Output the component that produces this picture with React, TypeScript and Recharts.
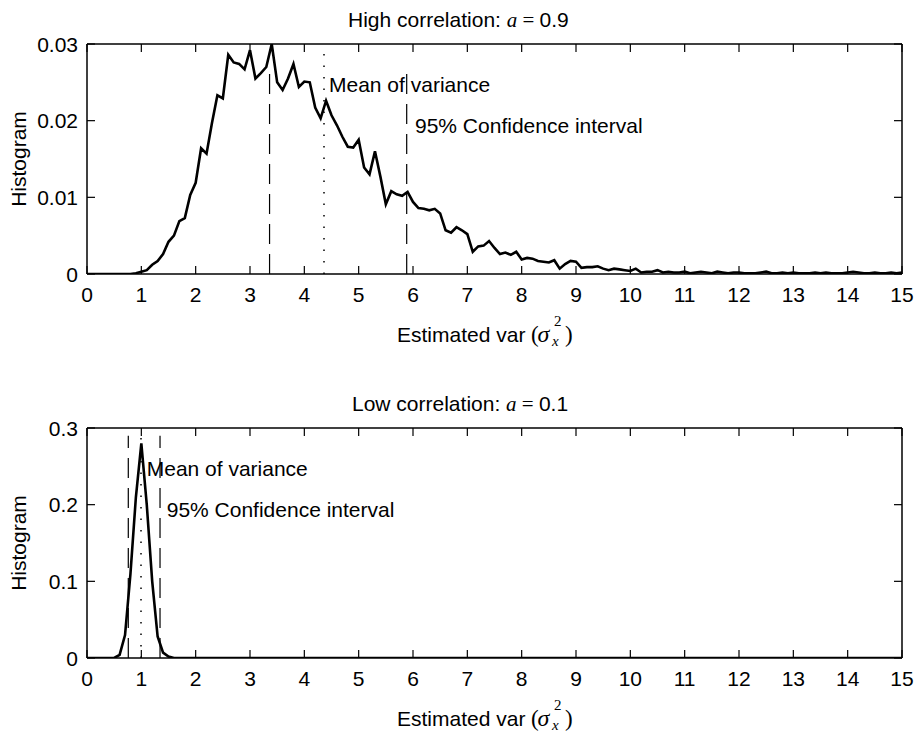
import React from 'react';
import { LineChart, Line, XAxis, YAxis, ReferenceLine, ReferenceDot } from 'recharts';

const SANS = '"Liberation Sans", Arial, Helvetica, sans-serif';
const SERIF = '"Liberation Serif", "Times New Roman", serif';
const FS = 21;

// histogram bins are 0.1 wide, starting at 0
const binWidth = 0.1;

const xTicks = [0, 1, 2, 3, 4, 5, 6, 7, 8, 9, 10, 11, 12, 13, 14, 15];
const highYTicks = [0, 0.01, 0.02, 0.03];
const lowYTicks = [0, 0.1, 0.2, 0.3];

// a = 0.9, one value per bin from 0.0 to 15.0
const highHist = [
  0, 0, 0, 0, 0, 0, 0, 0, 0, 0.0001,
  0.0003, 0.0005, 0.0012, 0.0017, 0.0026, 0.0042, 0.005, 0.0069, 0.0073, 0.0103,
  0.0119, 0.0164, 0.0157, 0.0197, 0.0233, 0.0229, 0.0286, 0.0276, 0.0274, 0.0267,
  0.0292, 0.0255, 0.0262, 0.027, 0.03, 0.025, 0.024, 0.0255, 0.0274, 0.0244,
  0.0251, 0.025, 0.0217, 0.0203, 0.0226, 0.0207, 0.0194, 0.0179, 0.0166, 0.0165,
  0.0175, 0.0139, 0.013, 0.016, 0.0127, 0.0091, 0.0108, 0.0104, 0.0102, 0.0107,
  0.0094, 0.0086, 0.0085, 0.0083, 0.0085, 0.0079, 0.0057, 0.0054, 0.0061, 0.0057,
  0.0052, 0.0029, 0.0036, 0.0037, 0.0043, 0.0034, 0.0026, 0.0028, 0.0025, 0.0029,
  0.0019, 0.0021, 0.002, 0.0017, 0.0016, 0.0015, 0.0018, 0.0007, 0.0013, 0.0017,
  0.0016, 0.0008, 0.0009, 0.0009, 0.001, 0.0007, 0.0005, 0.0007, 0.0006, 0.0005,
  0.0004, 0.0007, 0.0002, 0.0003, 0.0003, 0.0005, 0.0002, 0.0003, 0.0002, 0.0002,
  0.0003, 0.0001, 0.0002, 0.0003, 0.0002, 0.0001, 0.0003, 0.0002, 0.0001, 0.0002,
  0.0002, 0.0001, 0.0001, 0.0001, 0.0002, 0.0003, 0.0001, 0.0001, 0.0002, 0.0001,
  0.0002, 0.0001, 0.0001, 0.0001, 0.0002, 0.0001, 0.0002, 0.0001, 0.0001, 0.0001,
  0.0002, 0.0003, 0.0002, 0.0001, 0.0001, 0.0002, 0.0001, 0.0001, 0.0002, 0.0001,
  0.0002,
];

// a = 0.1, zero everywhere outside 0.5..1.6
const lowX = [0, 0.5, 0.6, 0.7, 0.8, 0.9, 1.0, 1.1, 1.2, 1.3, 1.4, 1.5, 1.6, 15];
const lowHist = [0, 0, 0.004, 0.03, 0.11, 0.21, 0.28, 0.2, 0.1, 0.028, 0.007, 0.002, 0, 0];

// mean (dotted) and 95% interval (dashed) of the estimated variance
const highCI = [3.36, 5.884];
const highMean = 4.362;
const lowCI = [0.76, 1.344];
const lowMean = 0.994;

const highData = highHist.map((y, i) => ({ x: Math.round(i * binWidth * 10) / 10, y }));
const lowData = lowX.map((x, i) => ({ x, y: lowHist[i] }));

const W = 915;
const H = 366;
// plot box: x 87..902, y 44..274 (axes take 60 / 30 / 1 / 1 px)
const margin = { top: 43, right: 12, bottom: 62, left: 27 };

const tickLen = 8;

const XTickBottom = (p: any) => (
  <g>
    <line x1={p.x} x2={p.x} y1={p.y} y2={p.y - tickLen} stroke="#000" strokeWidth={1.2} />
    <text x={p.x} y={p.y + 28} textAnchor="middle" fontFamily={SANS} fontSize={FS} fill="#000">
      {p.payload.value}
    </text>
  </g>
);
const XTickTop = (p: any) => (
  <line x1={p.x} x2={p.x} y1={p.y} y2={p.y + tickLen} stroke="#000" strokeWidth={1.2} />
);
const YTickLeft = (p: any) => (
  <g>
    <line x1={p.x} x2={p.x + tickLen} y1={p.y} y2={p.y} stroke="#000" strokeWidth={1.2} />
    <text x={p.x - 9} y={p.y + 7.5} textAnchor="end" fontFamily={SANS} fontSize={FS} fill="#000">
      {p.payload.value}
    </text>
  </g>
);
const YTickRight = (p: any) => (
  <line x1={p.x} x2={p.x - tickLen} y1={p.y} y2={p.y} stroke="#000" strokeWidth={1.2} />
);

const frame = { stroke: '#000', strokeWidth: 1.5 };
const labelStyle = { fontSize: FS, fontFamily: SANS, fill: '#000' };

type PanelProps = {
  top: number;
  data: { x: number; y: number }[];
  yMax: number;
  yTicks: number[];
  ci: number[];
  ciTop: number;
  mean: number;
  meanLabel: [number, number];
  ciLabel: [number, number];
  titleStart: string;
  titleEnd: string;
  titleX: number;
};

const Panel = (props: PanelProps) => {
  const { top, data, yMax, yTicks, ci, ciTop, mean, meanLabel, ciLabel } = props;
  return (
    <div style={{ position: 'absolute', left: 0, top, width: W, height: H }}>
      <LineChart width={W} height={H} data={data} margin={margin}>
        <XAxis xAxisId="b" dataKey="x" type="number" domain={[0, 15]} ticks={xTicks} interval={0}
          height={30} tickSize={0} tickMargin={0} tickLine={false} axisLine={frame} tick={XTickBottom} />
        <XAxis xAxisId="t" orientation="top" dataKey="x" type="number" domain={[0, 15]} ticks={xTicks}
          interval={0} height={1} tickSize={0} tickMargin={0} tickLine={false} axisLine={frame} tick={XTickTop} />
        <YAxis yAxisId="l" type="number" domain={[0, yMax]} ticks={yTicks} interval={0} width={60}
          tickSize={0} tickMargin={0} tickLine={false} axisLine={frame} tick={YTickLeft} allowDataOverflow />
        <YAxis yAxisId="r" orientation="right" type="number" domain={[0, yMax]} ticks={yTicks} interval={0}
          width={1} tickSize={0} tickMargin={0} tickLine={false} axisLine={frame} tick={YTickRight} allowDataOverflow />
        {ci.map((c) => (
          <ReferenceLine key={c} xAxisId="b" yAxisId="l" segment={[{ x: c, y: 0 }, { x: c, y: ciTop }]}
            stroke="#000" strokeWidth={1.2} strokeDasharray="20 10" />
        ))}
        <ReferenceLine xAxisId="b" yAxisId="l" segment={[{ x: mean, y: 0 }, { x: mean, y: yMax }]}
          stroke="#000" strokeWidth={1.5} strokeDasharray="1.5 10" />
        <Line xAxisId="b" yAxisId="l" dataKey="y" type="linear" dot={false} stroke="#000"
          strokeWidth={2.6} isAnimationActive={false} />
        <ReferenceDot xAxisId="b" yAxisId="l" x={meanLabel[0]} y={meanLabel[1]} r={0} fill="none" stroke="none"
          label={{ value: 'Mean of variance', position: 'right', offset: 0, ...labelStyle }} />
        <ReferenceDot xAxisId="b" yAxisId="l" x={ciLabel[0]} y={ciLabel[1]} r={0} fill="none" stroke="none"
          label={{ value: '95% Confidence interval', position: 'right', offset: 0, ...labelStyle }} />
      </LineChart>
      <svg width={W} height={H} style={{ position: 'absolute', left: 0, top: 0, pointerEvents: 'none' }}>
        <text x={props.titleX} y={27} fontFamily={SANS} fontSize={FS} fill="#000">
          {props.titleStart}
          <tspan fontFamily={SERIF} fontStyle="italic">a</tspan>
          <tspan fontFamily={SERIF}> = </tspan>
          {props.titleEnd}
        </text>
        <text transform="translate(26,159) rotate(-90)" textAnchor="middle" fontFamily={SANS} fontSize={FS} fill="#000">
          Histogram
        </text>
        <text x={397} y={342} fontFamily={SANS} fontSize={FS} fill="#000">Estimated var</text>
        <text x={531} y={342} fontFamily={SERIF} fontSize={23} fill="#000">(</text>
        <text x={537.5} y={342} fontFamily={SERIF} fontStyle="italic" fontSize={24} fill="#000">σ</text>
        <text x={554} y={326} fontFamily={SERIF} fontSize={15} fill="#000">2</text>
        <text x={552} y={346} fontFamily={SERIF} fontStyle="italic" fontSize={15} fill="#000">x</text>
        <text x={565} y={342} fontFamily={SERIF} fontSize={23} fill="#000">)</text>
      </svg>
    </div>
  );
};

export default function App() {
  return (
    <div style={{ position: 'absolute', left: 0, top: 0, width: W, height: 732, overflow: 'hidden', background: '#fff' }}>
      <Panel top={0} data={highData} yMax={0.03} yTicks={highYTicks} ci={highCI} ciTop={0.027} mean={highMean}
        meanLabel={[4.454, 0.0247]} ciLabel={[6.037, 0.0193]}
        titleStart="High correlation: " titleEnd="0.9" titleX={348} />
      <Panel top={384} data={lowData} yMax={0.3} yTicks={lowYTicks} ci={lowCI} ciTop={0.29} mean={lowMean}
        meanLabel={[1.099, 0.2465]} ciLabel={[1.467, 0.193]}
        titleStart="Low correlation: " titleEnd="0.1" titleX={352} />
    </div>
  );
}
